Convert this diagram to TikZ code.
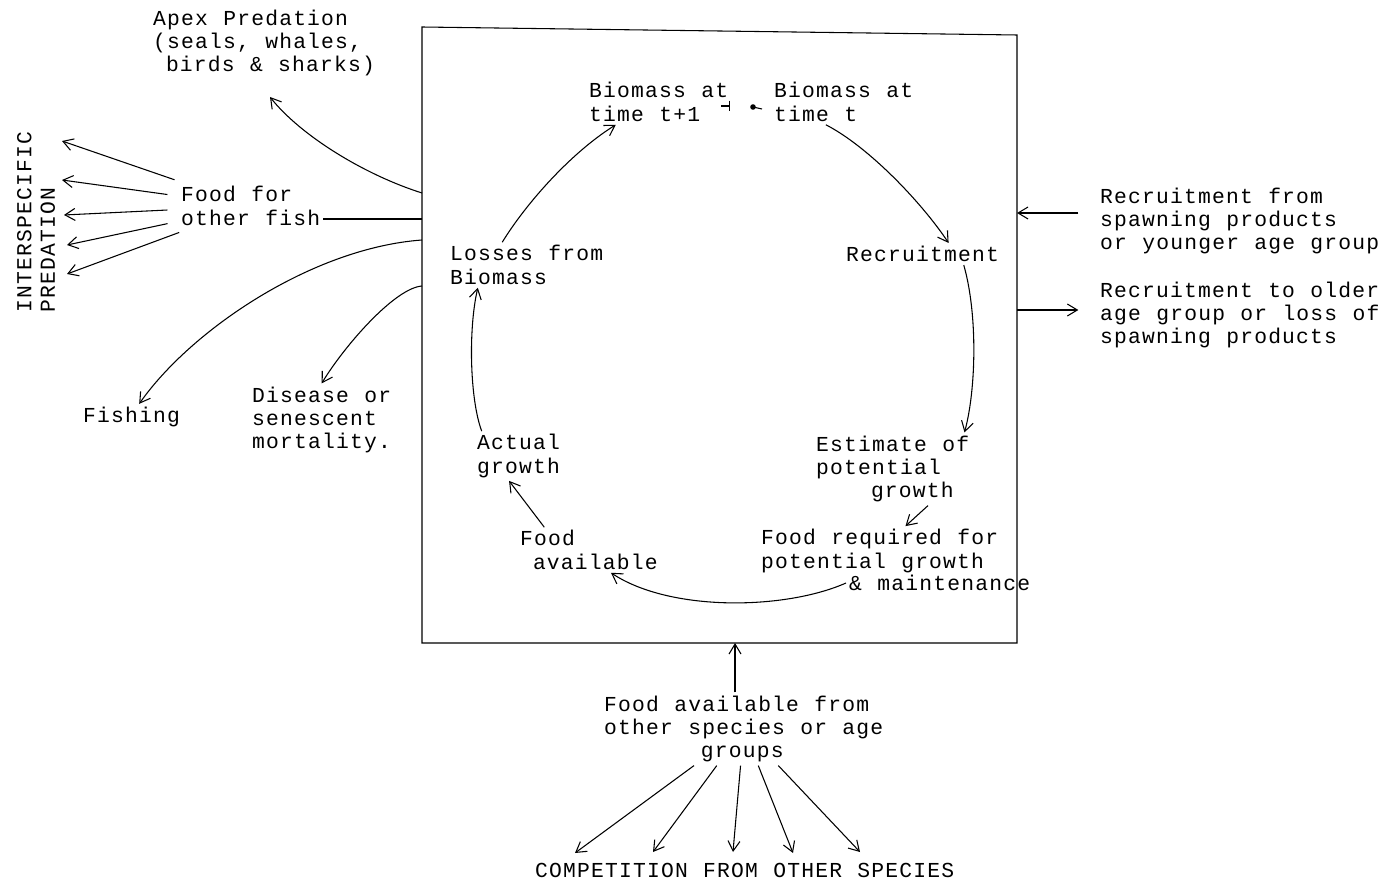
\documentclass[tikz,border=0pt]{standalone}
\usepackage{fontspec}
\setmonofont{Liberation Mono}[LetterSpace=5.6,WordSpace=1.094]
\usetikzlibrary{arrows.meta}

\newcommand{\typefont}{\fontsize{16}{17.6}\selectfont\ttfamily}

\tikzset{
  txt/.style={font=\typefont, align=left, anchor=west, inner sep=2pt},
  flow/.style={-{Straight Barb[length=7.5pt,width=9pt]}},
}

\begin{document}
\begin{tikzpicture}[x=0.75pt,y=0.75pt,yscale=-1,xscale=1,line width=0.8pt]
\useasboundingbox (0,0) rectangle (1386,884);

%Box round the cohort
\coordinate (tl) at (422,27);
\coordinate (tr) at (1017,35);
\coordinate (br) at (1017,643);
\coordinate (bl) at (422,643);
\draw (tl) -- (tr) -- (br) -- (bl) -- cycle;

% Text Nodes outside the box
\node[txt] (apex) at (150,43) {Apex Predation\\(seals, whales,\\\phantom{x}birds \& sharks)};
\node[txt, rotate=90] (interpred) at (36,316) {INTERSPECIFIC\\PREDATION};
\node[txt] (foodfish) at (178,206) {Food for\\other fish};
\node[txt] (fishing) at (80,417) {Fishing};
\node[txt] (disease) at (249,420) {Disease or\\senescent\\mortality.};
\node[txt] (recfrom) at (1097,221) {Recruitment from\\spawning products\\or younger age group};
\node[txt] (recto) at (1097,315) {Recruitment to older\\age group or loss of\\spawning products};
\node[txt] (foodother) at (601,729) {Food available from\\other species or age\\\phantom{xxxxxxx}groups};
\node[txt] (compet) at (532,870) {COMPETITION FROM OTHER SPECIES};

% Text Nodes inside the box
\node[txt] (bmt1) at (586,102) {Biomass at\\time t+1};
\node[txt] (bmt) at (771,102) {Biomass at\\time t};
\node[txt] (recruit) at (843,254) {Recruitment};
\node[txt] (losses) at (447,265) {Losses from\\Biomass};
\node[txt] (actual) at (474,456) {Actual\\growth};
\node[txt] (estimate) at (813,469) {Estimate of\\potential\\\phantom{xxxx}growth};
\node[txt] (foodavail) at (517,550) {Food\\\phantom{x}available};
\node[txt] (foodreq) at (758,551) {Food required for\\potential growth};
\node[txt] (maint) at (846,583) {\& maintenance};

%Losses on the left
\coordinate (apexout) at (422,193);
\coordinate (ffout) at (422,219);
\coordinate (fishout) at (422,240);
\coordinate (disout) at (422,286);
\coordinate (apextip) at (270,97);
\draw[flow] (apexout) .. controls (365,175) and (301,136) .. (apextip);
\draw (ffout) -- (foodfish.east |- ffout);
\draw[flow] (fishout) .. controls (312,248) and (191,330) .. (fishing.60);
\draw[flow] (disout) .. controls (395,288) and (345,345) .. (disease.north);

%Fan to the predators
\coordinate (ip1) at (62,141);
\coordinate (ip2) at (62,180);
\coordinate (ip3) at (64,215);
\coordinate (ip4) at (67,245);
\coordinate (ip5) at (67,274);
\foreach \i in {1,...,5}
  \draw[flow, shorten <=8pt] (foodfish) -- (ip\i);

%Cycle inside the box
\draw[flow] (bmt.-128) .. controls (869,147) and (922,203) .. (recruit.23);
\draw[flow] (recruit.-15) .. controls (978,315) and (976,390) .. (estimate.27);
\draw[flow] (estimate.-46) -- (foodreq.44);
\draw[flow] (maint.west) .. controls (785,610) and (670,612) .. (foodavail.-46);
\draw[flow] (foodavail.153) -- (actual.-111);
\draw[flow] (actual.146) .. controls (470,400) and (468,330) .. (losses.-155);
\draw[flow] (losses.137) .. controls (527,202) and (572,152) .. (bmt1.-152);

%Time step mark
\coordinate (tick) at (730,106);
\coordinate (dot) at (753,107);
\draw[-{Bar[width=8pt]}] (tick) ++(-9,0) -- (tick);
\fill (dot) circle[radius=2.8];
\draw (dot) -- ++(9,2);

%Recruitment on the right
\coordinate (rfin) at (1017,213);
\coordinate (rtout) at (1017,310);
\draw[flow, shorten <=14pt] (recfrom.west |- rfin) -- (rfin);
\draw[flow, shorten >=14pt] (rtout) -- (recto.west |- rtout);

%Food from below
\coordinate (fain) at (735,643);
\draw[flow] (foodother.north -| fain) -- (fain);
\coordinate (c1) at (575,853);
\coordinate (c2) at (653,852);
\coordinate (c3) at (733,852);
\coordinate (c4) at (793,853);
\coordinate (c5) at (860,852);
\foreach \i in {1,...,5}
  \draw[flow] (foodother) -- (c\i);

\end{tikzpicture}
\end{document}
